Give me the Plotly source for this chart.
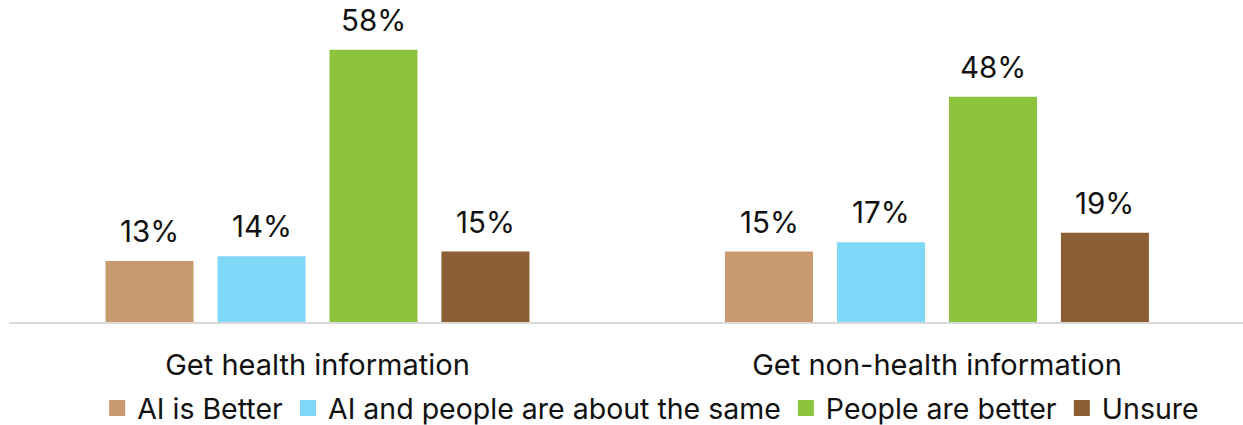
import plotly.graph_objects as go

categories = ["Get health information", "Get non-health information"]
series_names = ["AI is Better", "AI and people are about the same", "People are better", "Unsure"]
ai_better = [13, 15]
about_same = [14, 17]
people_better = [58, 48]
unsure = [15, 19]
colors = ["#C99A6D", "#80D8F8", "#8DC43E", "#8B5E34"]

values = [ai_better, about_same, people_better, unsure]

FONT = "Inter, Open Sans, sans-serif"
bargap = 0.277
n = len(series_names)

fig = go.Figure()
for name, vals, col in zip(series_names, values, colors):
    fig.add_trace(go.Bar(x=categories, y=vals, name=name, showlegend=False,
                         marker=dict(color=col, line=dict(width=0))))
for name, col in zip(series_names, colors):
    fig.add_trace(go.Scatter(x=[None], y=[None], mode="markers", name=name,
                             marker=dict(symbol="square", size=16, color=col)))

slot = (1 - bargap) / n
annotations = []
for si, vals in enumerate(values):
    off = (si - (n - 1) / 2) * slot
    for ci, v in enumerate(vals):
        annotations.append(dict(x=ci + off, y=v, xref="x", yref="y", text=f"{v}%",
                                showarrow=False, yanchor="middle", yshift=30,
                                font=dict(family=FONT, size=29.5, color="#111111")))

fig.update_layout(
    width=1243, height=425,
    margin=dict(l=9, r=0, t=31, b=103, autoexpand=False),
    paper_bgcolor="white", plot_bgcolor="white",
    barmode="group", bargap=bargap, bargroupgap=0.214,
    font=dict(family=FONT, size=28, color="#111111"),
    annotations=annotations,
    showlegend=True,
    legend=dict(orientation="h", x=0.52, xanchor="center", y=-0.297, yanchor="middle",
                font=dict(family=FONT, size=28.5, color="#111111"), itemwidth=30,
                tracegroupgap=0),
    xaxis=dict(range=[-0.498, 1.494], showline=True, linecolor="#D9D9D9", linewidth=2,
               ticks="outside", ticklen=16, tickcolor="rgba(0,0,0,0)", showgrid=False,
               tickfont=dict(family=FONT, size=29, color="#111111")),
    yaxis=dict(range=[0, 62], visible=False, showgrid=False, zeroline=False),
)

fig.write_html("out.html")
